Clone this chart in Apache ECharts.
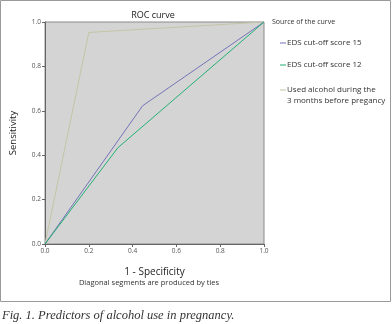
<!DOCTYPE html>
<html>
<head>
<meta charset="utf-8">
<script src="https://cdn.jsdelivr.net/npm/echarts@6/dist/echarts.min.js"></script>
<style>
  html, body { margin: 0; padding: 0; background: #fff; }
  #chart { width: 392px; height: 324px; }
</style>
</head>
<body>
<div id="chart"></div>
<script>
// curve names and colours
var seriesNames = ['EDS cut-off score 15', 'EDS cut-off score 12', 'Used alcohol during the\n3 months before pregancy'];
var seriesColors = ['#7474b8', '#22b074', '#c4c4a6'];

// ROC points [1 - specificity, sensitivity]
var eds15 = [[0, 0], [0.446, 0.623], [1, 1]];
var eds12 = [[0, 0], [0.333, 0.434], [1, 1]];
var alcohol = [[0, 0], [0.2, 0.953], [1, 1]];

var tickLabels = ['0.0', '0.2', '0.4', '0.6', '0.8', '1.0'];

var chart = echarts.init(document.getElementById('chart'));
var font = '"Open Sans", "Noto Sans", sans-serif';

function mkSeries(name, data, color) {
    return {
        name: name,
        type: 'line',
        data: data,
        symbol: 'none',
        lineStyle: { color: color, width: 1 },
        z: 3,
        animation: false
    };
}

// legend built with graphic so the sample line sits on the first text line
var legendY = [43, 65, 90];
var legendGraphics = [{
    type: 'text', x: 272, y: 22,
    style: { text: 'Source of the curve', font: '7px ' + font, fill: '#333', verticalAlign: 'middle' }
}];
for (var i = 0; i < seriesNames.length; i++) {
    legendGraphics.push({
        type: 'line',
        shape: { x1: 280, y1: legendY[i], x2: 286, y2: legendY[i] },
        style: { stroke: seriesColors[i], lineWidth: 1 }
    });
    legendGraphics.push({
        type: 'text', x: 287, y: legendY[i] - 5.5,
        style: { text: seriesNames[i], font: '8px ' + font, fill: '#333', lineHeight: 10.7 }
    });
}

var option = {
    backgroundColor: '#fff',
    animation: false,
    title: {
        text: 'ROC curve',
        left: 148, top: 6, textAlign: 'center',
        textStyle: { fontFamily: font, fontSize: 9, fontWeight: 'normal', color: '#222' }
    },
    grid: {
        left: 42, top: 22, width: 222, height: 222,
        show: true, backgroundColor: '#d4d4d4', borderColor: '#8a8a8a', borderWidth: 1
    },
    xAxis: {
        type: 'value', min: 0, max: 1, interval: 0.2,
        name: '1 - Specificity', nameLocation: 'middle', nameGap: 23,
        nameTextStyle: { fontFamily: font, fontSize: 10, color: '#222' },
        axisLine: { show: true, lineStyle: { color: '#666' } },
        axisTick: { show: true, length: 3, lineStyle: { color: '#666' } },
        splitLine: { show: false },
        axisLabel: {
            fontFamily: font, fontSize: 6.5, color: '#555', margin: 4,
            formatter: function (v) { return tickLabels[Math.round(v * 5)]; }
        }
    },
    yAxis: {
        type: 'value', min: 0, max: 1, interval: 0.2,
        name: 'Sensitivity', nameLocation: 'middle', nameGap: 27, nameRotate: 90,
        nameTextStyle: { fontFamily: font, fontSize: 9.5, color: '#222' },
        axisLine: { show: true, lineStyle: { color: '#666' } },
        axisTick: { show: true, length: 3, lineStyle: { color: '#666' } },
        splitLine: { show: false },
        axisLabel: {
            fontFamily: font, fontSize: 6.5, color: '#555', margin: 4,
            formatter: function (v) { return tickLabels[Math.round(v * 5)]; }
        }
    },
    graphic: [
        {
            type: 'rect', shape: { x: 0.5, y: 0.5, width: 390, height: 301 },
            style: { fill: 'none', stroke: '#9a9a9a', lineWidth: 1 }, z: -1
        },
        {
            type: 'text', x: 149, y: 283,
            style: { text: 'Diagonal segments are produced by ties', font: '7.5px ' + font, fill: '#333', align: 'center', verticalAlign: 'middle' }
        },
        {
            type: 'text', x: 2, y: 316,
            style: { text: 'Fig. 1. Predictors of alcohol use in pregnancy.', font: 'italic 12.5px "Liberation Serif", serif', fill: '#333', verticalAlign: 'middle' }
        }
    ].concat(legendGraphics),
    series: [
        mkSeries(seriesNames[2], alcohol, seriesColors[2]),
        mkSeries(seriesNames[0], eds15, seriesColors[0]),
        mkSeries(seriesNames[1], eds12, seriesColors[1])
    ]
};

chart.setOption(option);
</script>
</body>
</html>
